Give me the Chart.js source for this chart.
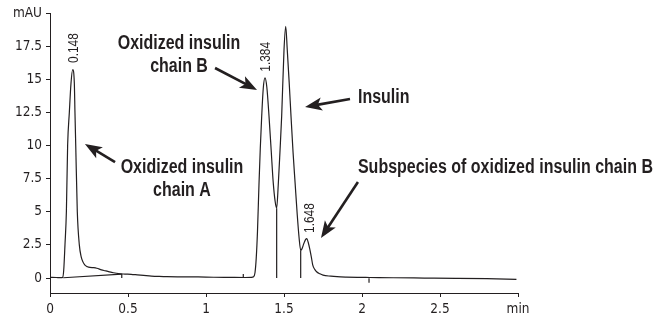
<!DOCTYPE html>
<html>
<head>
<meta charset="utf-8">
<script src="https://cdn.jsdelivr.net/npm/chart.js@4/dist/chart.umd.min.js"></script>
<style>
html,body{margin:0;padding:0;background:#fff;}
#wrap{width:663px;height:316px;position:relative;}
canvas{display:block;}
</style>
</head>
<body>
<div id="wrap"><canvas id="c" width="663" height="316"></canvas></div>
<script>
// ---- Data ----
const traceTime = [
  0.00, 0.04, 0.07, 0.081, 0.088, 0.096, 0.105, 0.113, 0.124, 0.1346, 0.1455, 0.156, 0.160, 0.165, 0.175, 0.188, 0.200, 0.212, 0.224, 0.240,
  0.256, 0.280, 0.300, 0.330, 0.353, 0.380, 0.406, 0.440, 0.480, 0.520, 0.560, 0.600, 0.650, 0.700, 0.750, 0.850, 0.950, 1.050, 1.150, 1.250,
  1.290, 1.305, 1.314, 1.322, 1.330, 1.340, 1.348, 1.357, 1.367, 1.378, 1.390, 1.404, 1.418, 1.431, 1.443, 1.453, 1.463, 1.474, 1.485, 1.500,
  1.511, 1.521, 1.533, 1.545, 1.558, 1.571, 1.585, 1.597, 1.607, 1.615, 1.627, 1.638, 1.646, 1.655, 1.665, 1.675, 1.684, 1.697, 1.709, 1.730,
  1.750, 1.800, 1.840, 1.900, 1.970, 2.050, 2.200, 2.400, 2.600, 2.800, 2.990
];
const traceSignal = [
  0.05, 0.04, 0.03, 0.05, 0.6, 2.5, 5.0, 10.0, 12.5, 14.7, 15.73, 14.7, 12.5, 10.0, 5.0, 2.5, 1.6, 1.2, 0.97, 0.85,
  0.80, 0.78, 0.74, 0.62, 0.55, 0.47, 0.40, 0.33, 0.30, 0.28, 0.24, 0.20, 0.15, 0.12, 0.10, 0.09, 0.08, 0.06, 0.05, 0.04,
  0.05, 0.10, 0.40, 1.5, 3.5, 7.2, 9.8, 12.2, 14.3, 15.1, 14.4, 12.2, 9.6, 7.2, 5.8, 5.27, 7.0, 9.5, 12.2, 17.2,
  19.0, 17.2, 14.8, 12.2, 9.5, 7.2, 4.75, 3.0, 2.1, 2.2, 2.6, 2.9, 2.98, 2.7, 2.2, 1.6, 1.0, 0.65, 0.47, 0.32,
  0.22, 0.14, 0.10, 0.07, 0.05, 0.04, 0.02, 0.00, -0.02, -0.05, -0.10
];
// integration baseline under the first peak
const baselineTime = [0.085, 0.46];
const baselineSignal = [0.02, 0.30];
// peak drop lines (time, valley height)
const dropTimes = [1.453, 1.607];
const dropHeights = [5.27, 2.1];
// integration event markers (time, top, bottom)
const markerTimes = [0.46, 1.239, 2.045];
const markerTops = [0.30, 0.30, -0.02];
const markerBottoms = [0.00, 0.02, -0.35];
// peak retention-time labels
const peakLabels = ["0.148", "1.384", "1.648"];
// axis ticks
const xTickValues = [0, 0.5, 1, 1.5, 2, 2.5, 3];
const xTickLabels = ["0", "0.5", "1", "1.5", "2", "2.5", "min"];
const yTickValues = [0, 2.5, 5, 7.5, 10, 12.5, 15, 17.5, 20];
const yTickLabels = ["0", "2.5", "5", "7.5", "10", "12.5", "15", "17.5", "mAU"];

// ---- Annotation placement (data coordinates) ----
const peakLabelAnchors = [[0.154, 16.23], [1.385, 15.57], [1.667, 3.40]];
const textNotes = [
  {lines: ["Oxidized insulin", "chain B"], at: [0.827, 17.66], align: "center"},
  {lines: ["Insulin"], at: [1.974, 13.58], align: "left"},
  {lines: ["Oxidized insulin", "chain A"], at: [0.846, 8.30], align: "center"},
  {lines: ["Subspecies of oxidized insulin chain B"], at: [1.974, 8.30], align: "left"}
];
const arrowNotes = [
  {from: [1.058, 15.85], to: [1.327, 14.19]},
  {from: [1.923, 13.51], to: [1.635, 12.91]},
  {from: [0.417, 8.75], to: [0.224, 10.11]},
  {from: [1.974, 7.25], to: [1.737, 3.02]}
];

const INK = '#231f20';
const TICK_FONT = "'DejaVu Sans Condensed', 'Liberation Sans', sans-serif";
const NOTE_FONT = "'Liberation Sans', Arial, sans-serif";
const NARROW = 0.82; // horizontal squeeze to mimic a condensed face

const pts = (xs, ys) => xs.map((x, i) => ({x: x, y: ys[i]}));
const lineStyle = {borderColor: INK, borderWidth: 1.2, pointRadius: 0, fill: false, tension: 0};

const datasets = [
  Object.assign({label: 'trace', data: pts(traceTime, traceSignal), cubicInterpolationMode: 'monotone'}, lineStyle),
  Object.assign({label: 'baseline', data: pts(baselineTime, baselineSignal)}, lineStyle)
];
dropTimes.forEach((t, i) => {
  datasets.push(Object.assign({label: 'drop' + i, data: [{x: t, y: dropHeights[i]}, {x: t, y: 0}]}, lineStyle));
});
markerTimes.forEach((t, i) => {
  datasets.push(Object.assign({label: 'marker' + i, data: [{x: t, y: markerTops[i]}, {x: t, y: markerBottoms[i]}]}, lineStyle));
});

function drawArrow(ctx, x1, y1, x2, y2) {
  const ang = Math.atan2(y2 - y1, x2 - x1);
  const c = Math.cos(ang), s = Math.sin(ang);
  const L = 17, W = 6.5, N = 4;
  const nx = x2 - (L - N) * c, ny = y2 - (L - N) * s;
  ctx.save();
  ctx.strokeStyle = INK; ctx.fillStyle = INK;
  ctx.lineWidth = 2.6; ctx.lineCap = 'butt';
  ctx.beginPath(); ctx.moveTo(x1, y1); ctx.lineTo(nx + c, ny + s); ctx.stroke();
  const bx = x2 - L * c, by = y2 - L * s;
  ctx.beginPath();
  ctx.moveTo(x2, y2);
  ctx.lineTo(bx - W * s, by + W * c);
  ctx.lineTo(nx, ny);
  ctx.lineTo(bx + W * s, by - W * c);
  ctx.closePath(); ctx.fill();
  ctx.restore();
}

function narrowText(ctx, text, x, y, align, rotate) {
  ctx.save();
  ctx.translate(x, y);
  if (rotate) ctx.rotate(-Math.PI / 2);
  ctx.scale(NARROW, 1);
  ctx.textAlign = align;
  ctx.fillText(text, 0, 0);
  ctx.restore();
}

const notesPlugin = {
  id: 'notes',
  afterDatasetsDraw(chart) {
    const ctx = chart.ctx, xs = chart.scales.x, ys = chart.scales.y;
    ctx.save();
    ctx.fillStyle = INK;
    ctx.textBaseline = 'middle';
    // peak labels, rotated
    ctx.font = "14.5px " + NOTE_FONT;
    peakLabels.forEach((lab, i) => {
      narrowText(ctx, lab, xs.getPixelForValue(peakLabelAnchors[i][0]),
                 ys.getPixelForValue(peakLabelAnchors[i][1]), 'left', true);
    });
    // bold notes
    ctx.font = "bold 19.5px " + NOTE_FONT;
    textNotes.forEach(n => {
      const px = xs.getPixelForValue(n.at[0]);
      const py = ys.getPixelForValue(n.at[1]);
      n.lines.forEach((ln, k) => narrowText(ctx, ln, px, py + k * 23, n.align, false));
    });
    ctx.restore();
    arrowNotes.forEach(a => {
      drawArrow(ctx, xs.getPixelForValue(a.from[0]), ys.getPixelForValue(a.from[1]),
                xs.getPixelForValue(a.to[0]), ys.getPixelForValue(a.to[1]));
    });
  }
};

const axisCommon = {
  type: 'linear',
  grid: {display: true, drawOnChartArea: false, drawTicks: true, tickLength: 4, color: INK, lineWidth: 1},
  border: {display: true, color: INK, width: 1}
};

new Chart(document.getElementById('c'), {
  type: 'line',
  data: {datasets: datasets},
  options: {
    responsive: false,
    animation: false,
    devicePixelRatio: 1,
    layout: {padding: {left: 0, top: 13, right: 145, bottom: 0}},
    plugins: {legend: {display: false}, tooltip: {enabled: false}},
    scales: {
      x: Object.assign({}, axisCommon, {
        min: 0, max: 3,
        afterBuildTicks: s => { s.ticks = xTickValues.map(v => ({value: v})); },
        afterFit: s => { s.height = 23; },
        ticks: {color: INK, font: {family: TICK_FONT, size: 13.5}, padding: 4, maxRotation: 0, autoSkip: false,
                callback: (v, i) => xTickLabels[i]}
      }),
      y: Object.assign({}, axisCommon, {
        min: -1.13, max: 20,
        afterBuildTicks: s => { s.ticks = yTickValues.map(v => ({value: v})); },
        afterFit: s => { s.width = 50; },
        ticks: {color: INK, font: {family: TICK_FONT, size: 13.5}, padding: 4, autoSkip: false,
                callback: (v, i) => yTickLabels[i]}
      })
    }
  },
  plugins: [notesPlugin]
});
</script>
</body>
</html>
